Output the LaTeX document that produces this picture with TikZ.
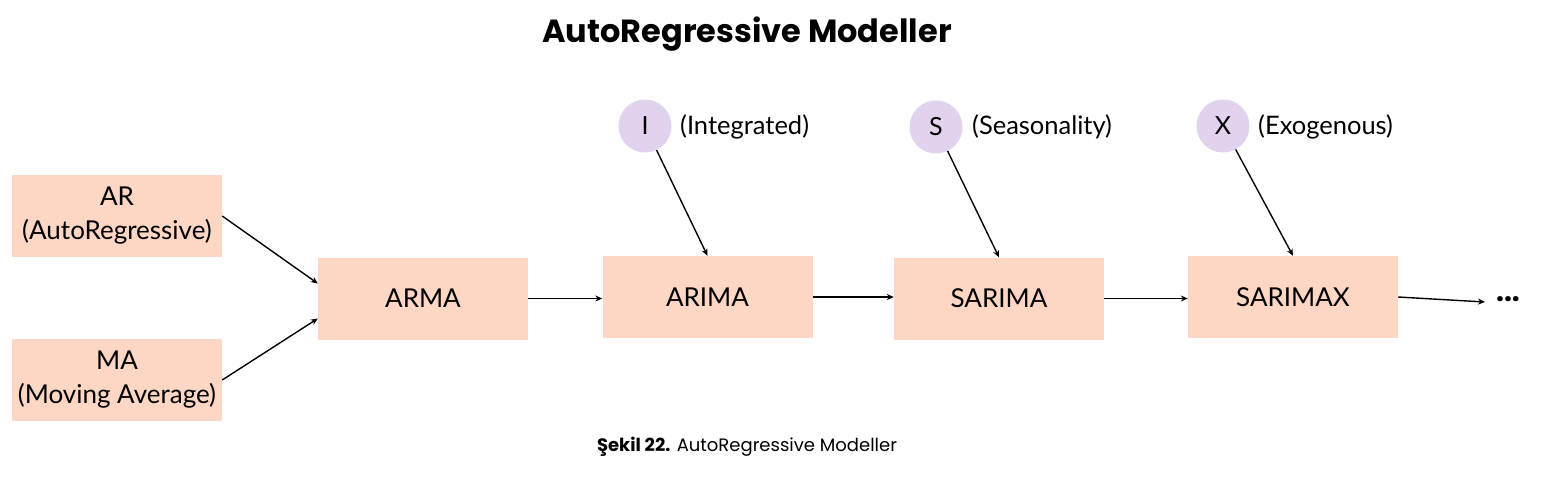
\documentclass[tikz,border=0pt]{standalone}
\usepackage{fontspec}
\setmainfont{Lato}
\newfontfamily\popfont{Poppins}
\usetikzlibrary{arrows.meta,calc}
\definecolor{boxfill}{HTML}{FDD6C4}
\definecolor{circfill}{HTML}{E1D2EE}
\begin{document}
\begin{tikzpicture}[x=1pt,y=-1pt,
  model/.style={fill=boxfill,draw=none,minimum width=210pt,minimum height=82pt,inner sep=0pt,align=center,font=\fontsize{26}{34}\selectfont},
  factor/.style={circle,fill=circfill,draw=none,minimum size=53pt,inner sep=0pt,font=\fontsize{25}{28}\selectfont},
  lbl/.style={anchor=west,inner sep=0pt,font=\fontsize{25.5}{28}\selectfont},
  link/.style={line width=1.4pt,-{Stealth[length=7pt,width=6pt]}}]
\useasboundingbox (0,0) rectangle (1546,483);
\node[inner sep=0pt,font=\popfont\bfseries\fontsize{32}{36}\selectfont] (title) at (747,34) {AutoRegressive Modeller};
\node[model] (AR) at (117,216) {AR\\(AutoRegressive)};
\node[model] (MA) at (117,380) {MA\\(Moving Average)};
\node[model] (ARMA) at (423,298.5) {ARMA};
\node[model] (ARIMA) at (707.5,297) {ARIMA};
\node[model] (SARIMA) at (999,298.5) {SARIMA};
\node[model] (SARIMAX) at (1293,297) {SARIMAX};
\node[factor] (I) at (645,126) {I};
\node[factor] (S) at (936,127) {S};
\node[factor] (X) at (1223,126) {X};
\node[lbl] (Il) at (680,127) {(Integrated)};
\node[lbl] (Sl) at (972,127) {(Seasonality)};
\node[lbl] (Xl) at (1258,127) {(Exogenous)};
\node[inner sep=0pt,font=\popfont\bfseries\fontsize{28}{30}\selectfont] (dots) at (1508,299) {...};
\coordinate (dend) at (1485,302);
\draw[link] (AR.east) -- ($(ARMA.west)+(0,-15)$);
\draw[link] (MA.east) -- ($(ARMA.west)+(0,20)$);
\draw[link] (ARMA.east) -- (ARIMA.west |- ARMA.east);
\draw[link] (ARIMA.east) -- (SARIMA.west |- ARIMA.east);
\draw[link] (SARIMA.east) -- (SARIMAX.west |- SARIMA.east);
\draw[link] (SARIMAX.east) -- (dend);
\draw[link] (I) -- (ARIMA.north);
\draw[link] (S) -- (SARIMA.north);
\draw[link] (X) -- (SARIMAX.north);
\node[inner sep=0pt,font=\popfont\fontsize{18}{22}\selectfont] (caption) at (747,447) {\textbf{Şekil 22.} AutoRegressive Modeller};
\end{tikzpicture}
\end{document}
